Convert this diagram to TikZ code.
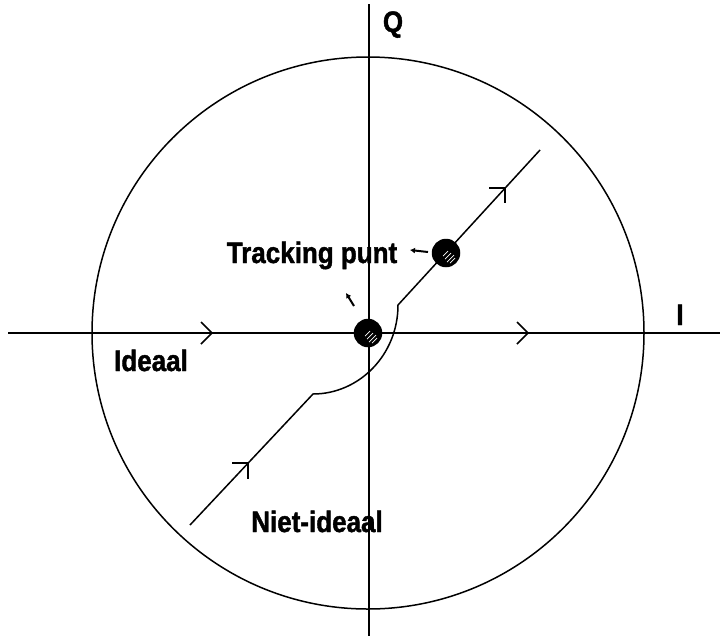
\documentclass[tikz,border=0pt]{standalone}
\usepackage{fontspec}
\usepackage{graphicx}
\setmainfont{Liberation Sans}[BoldFeatures={FakeBold=1.5}]
\usetikzlibrary{arrows.meta}
\newcommand{\lbltext}[1]{\scalebox{1}[1.14]{#1}}
\begin{document}
\begin{tikzpicture}[x=1pt,y=-1pt,line width=1.5pt,
  dotnode/.style={circle,fill=black,draw=black,minimum size=27pt,inner sep=0pt},
  lbl/.style={font=\fontsize{26}{28}\selectfont\bfseries,inner sep=0pt,anchor=base},
  hatch/.style={white,line width=0.7pt},
  pointer/.style={line width=2pt,-{Latex[length=5pt,width=6pt]}}]
\useasboundingbox (0,0) rectangle (720,638);
\coordinate (O) at (368,333);
\draw (O) circle[radius=276pt];
% axes
\coordinate (Il) at (8,333);
\coordinate (Ir) at (720,333);
\coordinate (Qt) at (369,4);
\coordinate (Qb) at (369,636);
\draw (Il) -- (Ir);
\draw (Qt) -- (Qb);
\coordinate (a1) at (212,333);
\coordinate (a2) at (528,333);
\draw ([shift={(-11,-11)}]a1) -- (a1) -- ([shift={(-11,11)}]a1);
\draw ([shift={(-11,-11)}]a2) -- (a2) -- ([shift={(-11,11)}]a2);
% non-ideal path
\coordinate (p0) at (190,525);
\coordinate (p1) at (313,394);
\coordinate (p2) at (398,305);
\coordinate (p3) at (540,150);
\coordinate (a3) at (248,463);
\coordinate (a4) at (505,188);
\draw (p0) -- (p1) .. controls (359,394) and (398,355) .. (p2) -- (p3);
\draw ([shift={(-16,0)}]a3) -- (a3) -- ([shift={(0,16)}]a3);
\draw ([shift={(-16,0)}]a4) -- (a4) -- ([shift={(0,15)}]a4);
% dots
\node[dotnode] (d0) at (O) {};
\node[dotnode] (d1) at (446,253) {};
\foreach \c in {d0,d1}{
  \draw[hatch] ([shift={(-1,6)}]\c.center) -- ([shift={(5,0)}]\c.center);
  \draw[hatch] ([shift={(1,9)}]\c.center) -- ([shift={(8,2)}]\c.center);
  \draw[hatch] ([shift={(-3,3)}]\c.center) -- ([shift={(2,-2)}]\c.center);
  \draw[hatch] ([shift={(4,10)}]\c.center) -- ([shift={(9,5)}]\c.center);
}
% labels
\node[lbl] (Q) at (393,32) {\lbltext{Q}};
\node[lbl] (I) at (680,325) {\lbltext{I}};
\node[lbl] (tp) at (312,263) {\lbltext{Tracking punt}};
\node[lbl] (id) at (151,371) {\lbltext{Ideaal}};
\node[lbl] (ni) at (317,532) {\lbltext{Niet-ideaal}};
% pointers
\coordinate (t1s) at (428,252);
\coordinate (t1e) at (410,250);
\draw[pointer] (t1s) -- (t1e);
\coordinate (t2s) at (354,306);
\coordinate (t2e) at (346,293);
\draw[pointer] (t2s) -- (t2e);
\end{tikzpicture}
\end{document}
